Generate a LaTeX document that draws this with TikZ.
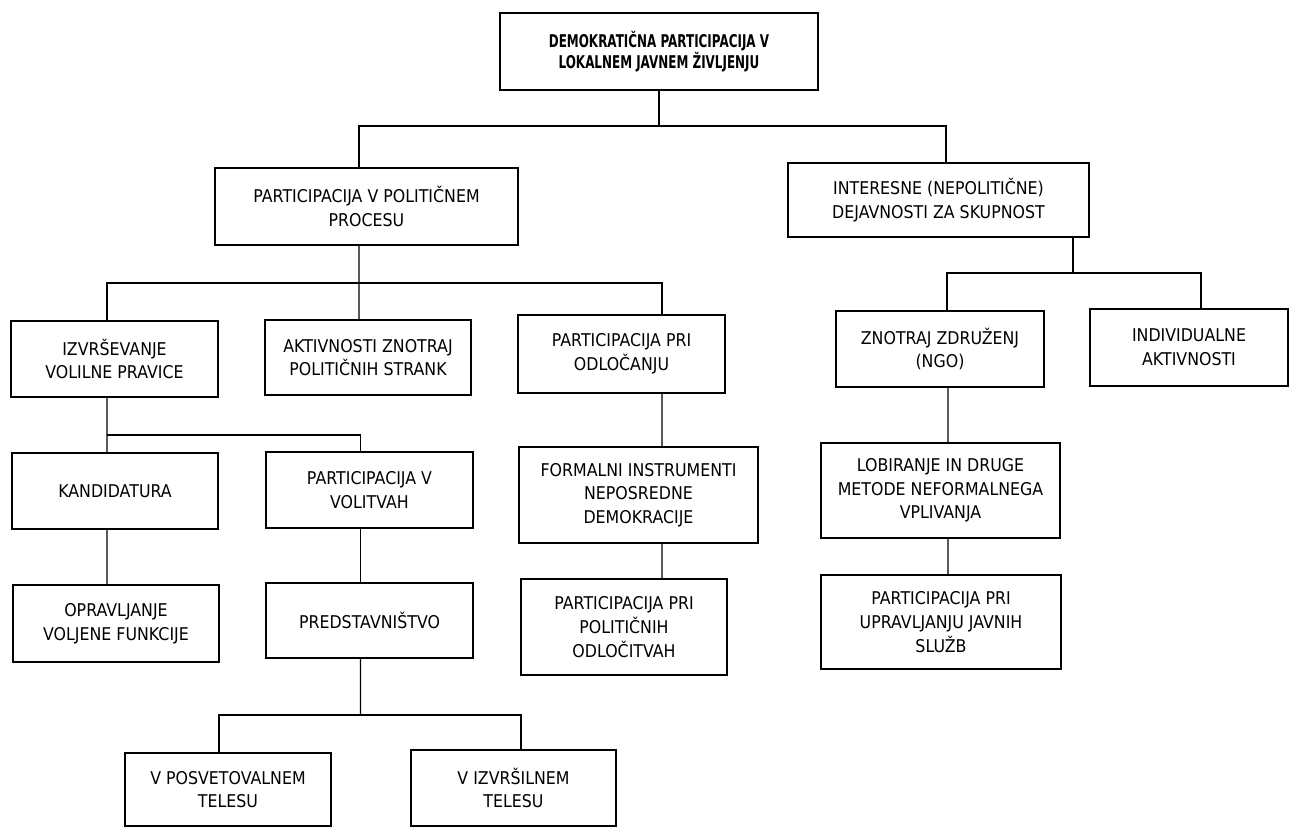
\documentclass[tikz,border=0pt]{standalone}
\usepackage{fontspec}
\setmainfont{DejaVu Sans}[FakeStretch=0.9]
\newfontfamily\rootfont{DejaVu Sans}[FakeStretch=0.68]
\usepackage{tikz}

\begin{document}
\begin{tikzpicture}[x=0.02cm, y=-0.02cm,
  box/.style={draw, line width=1pt, align=center, inner sep=2pt, font=\fontsize{10}{13.5}\selectfont},
  link/.style={draw, line width=0.8pt}]
  % oblike participacije, ena raven pod drugo
  \useasboundingbox (0,0) rectangle (1291,828);
  \node[box, minimum width=6.36cm, minimum height=1.54cm, font=\rootfont\bfseries\fontsize{10}{12}\selectfont] (root) at (659,51.5) {DEMOKRATIČNA PARTICIPACIJA V\\LOKALNEM JAVNEM ŽIVLJENJU};
  \node[box, minimum width=6.06cm, minimum height=1.54cm] (pol) at (366.5,206.5) {PARTICIPACIJA V POLITIČNEM\\PROCESU};
  \node[box, minimum width=6.02cm, minimum height=1.48cm] (int) at (938.5,200) {INTERESNE (NEPOLITIČNE)\\DEJAVNOSTI ZA SKUPNOST};
  \node[box, minimum width=4.14cm, minimum height=1.52cm] (izv) at (114.5,359) {IZVRŠEVANJE\\VOLILNE PRAVICE};
  \node[box, minimum width=4.12cm, minimum height=1.50cm] (akt) at (368,357.5) {AKTIVNOSTI ZNOTRAJ\\POLITIČNIH STRANK};
  \node[box, minimum width=4.14cm, minimum height=1.56cm] (ppo) at (621.5,354) {PARTICIPACIJA PRI\\ODLOČANJU};
  \node[box, minimum width=4.16cm, minimum height=1.52cm] (zno) at (940,349) {ZNOTRAJ ZDRUŽENJ\\(NGO)};
  \node[box, minimum width=3.96cm, minimum height=1.54cm] (ind) at (1189,347.5) {INDIVIDUALNE\\AKTIVNOSTI};
  \node[box, minimum width=4.12cm, minimum height=1.52cm] (kan) at (115,491) {KANDIDATURA};
  \node[box, minimum width=4.14cm, minimum height=1.52cm] (pv) at (369.5,490) {PARTICIPACIJA V\\VOLITVAH};
  \node[box, minimum width=4.78cm, minimum height=1.92cm] (for) at (638.5,495) {FORMALNI INSTRUMENTI\\NEPOSREDNE\\DEMOKRACIJE};
  \node[box, minimum width=4.78cm, minimum height=1.90cm] (lob) at (940.5,490.5) {LOBIRANJE IN DRUGE\\METODE NEFORMALNEGA\\VPLIVANJA};
  \node[box, minimum width=4.12cm, minimum height=1.54cm] (opr) at (116,623.5) {OPRAVLJANJE\\VOLJENE FUNKCIJE};
  \node[box, minimum width=4.14cm, minimum height=1.50cm] (pred) at (369.5,620.5) {PREDSTAVNIŠTVO};
  \node[box, minimum width=4.12cm, minimum height=1.92cm] (ppol) at (624,627) {PARTICIPACIJA PRI\\POLITIČNIH\\ODLOČITVAH};
  \node[box, minimum width=4.80cm, minimum height=1.88cm] (puj) at (941,622) {PARTICIPACIJA PRI\\UPRAVLJANJU JAVNIH\\SLUŽB};
  \node[box, minimum width=4.12cm, minimum height=1.46cm] (vpo) at (228,789.5) {V POSVETOVALNEM\\TELESU};
  \node[box, minimum width=4.10cm, minimum height=1.52cm] (viz) at (513.5,788) {V IZVRŠILNEM\\TELESU};

  \coordinate (j1) at (659,126);
  \draw[link] (root.south) -- (j1);
  \draw[link] ([xshift=-0.15cm]pol.north) |- (j1) -| ([xshift=0.15cm]int.north);

  \coordinate (j2) at (359,283);
  \draw[link] ([xshift=-0.15cm]pol.south) -- ([xshift=-0.18cm]akt.north);
  \draw[link] ([xshift=-0.15cm]izv.north) |- (j2) -| ([xshift=0.81cm]ppo.north);

  \coordinate (j3) at (107,435);
  \draw[link] ([xshift=-0.15cm]izv.south) -- ([xshift=-0.16cm]kan.north);
  \draw[link] (j3) -| ([xshift=-0.18cm]pv.north);
  \draw[link] ([xshift=-0.16cm]kan.south) -- ([xshift=-0.18cm]opr.north);
  \draw[link] ([xshift=-0.18cm]pv.south) -- ([xshift=-0.18cm]pred.north);

  \coordinate (j4) at (360.5,715);
  \draw[link] ([xshift=-0.18cm]pred.south) -- (j4);
  \draw[link] ([xshift=-0.18cm]vpo.north) |- (j4) -| ([xshift=0.15cm]viz.north);

  \draw[link] ([xshift=0.81cm]ppo.south) -- ([xshift=0.47cm]for.north);
  \draw[link] ([xshift=0.47cm]for.south) -- ([xshift=0.76cm]ppol.north);

  \coordinate (j5) at (1073,273);
  \draw[link] (j5 |- int.south) -- (j5);
  \draw[link] ([xshift=0.14cm]zno.north) |- (j5) -| ([xshift=0.24cm]ind.north);
  \draw[link] ([xshift=0.16cm]zno.south) -- ([xshift=0.15cm]lob.north);
  \draw[link] ([xshift=0.15cm]lob.south) -- ([xshift=0.14cm]puj.north);
\end{tikzpicture}
\end{document}
